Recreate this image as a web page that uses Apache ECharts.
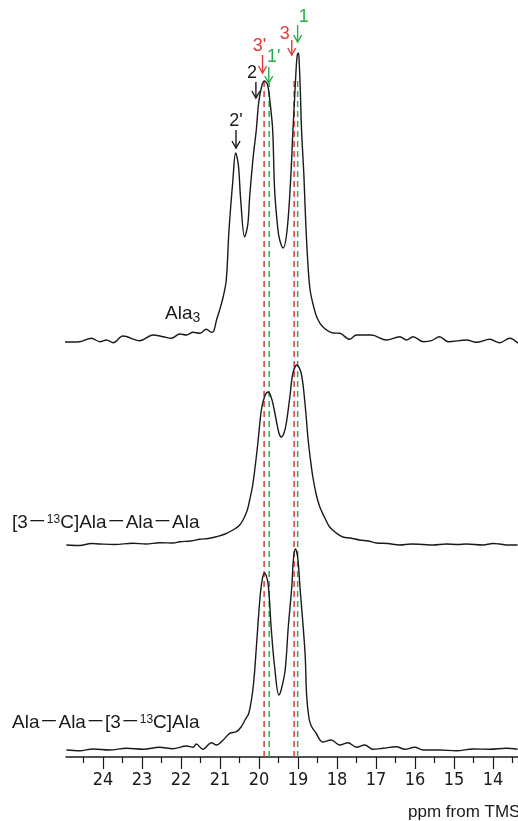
<!DOCTYPE html>
<html>
<head>
<meta charset="utf-8">
<script src="https://cdn.jsdelivr.net/npm/echarts@6/dist/echarts.min.js"></script>
<style>
html, body { margin: 0; padding: 0; background: #fff; }
#main { width: 518px; height: 821px; }
</style>
</head>
<body>
<div id="main"></div>
<script>
// ppm tick labels
var tickValues = [24, 23, 22, 21, 20, 19, 18, 17, 16, 15, 14];

// spectra, [ppm, intensity above own baseline]
var specAla3 = [
  [24.98,0],[24.60,0.3],[24.30,3.7],[24.08,0.3],[23.91,2],[23.74,-0.7],[23.49,6],[23.06,1.3],
  [22.72,7],[22.46,5.3],[22.25,3.7],[22.03,8],[21.86,7],[21.69,9.7],[21.52,8.7],[21.35,12.7],
  [21.22,9.7],[21.16,11],[21.09,22],[21.01,32],[20.92,45],[20.84,62],[20.77,112],[20.67,162],
  [20.60,189],[20.53,177],[20.47,142],[20.37,105],[20.29,117],[20.24,145],[20.15,185],[20.07,212],
  [20.01,239],[19.93,256],[19.86,261],[19.78,257],[19.71,237],[19.65,212],[19.60,152],[19.52,114],
  [19.47,102],[19.38,94],[19.28,112],[19.19,162],[19.13,212],[19.09,242],[19.05,272],[19.02,287],
  [18.99,289],[18.97,280],[18.94,250],[18.91,212],[18.85,167],[18.80,117],[18.74,74],[18.69,52],
  [18.61,37],[18.51,24],[18.36,15],[18.10,9],[17.93,8.7],[17.68,2.7],[17.50,7],[17.12,7],
  [16.73,2],[16.39,5.3],[16.22,2],[16.05,5.3],[15.79,0.3],[15.58,1.3],[15.37,5.3],[15.15,0.3],
  [14.68,2],[14.43,-0.3],[14.08,2.7],[13.83,-0.7],[13.57,3.7],[13.36,-1.3]
];
var specN13C = [
  [24.94,0],[24.60,-0.5],[24.30,1.5],[24.08,1],[23.70,0.5],[23.24,1.7],[22.90,1],[22.55,2.3],
  [22.20,2],[22.03,3.3],[21.75,4],[21.52,5.7],[21.30,6.5],[21.09,8.3],[20.87,11],[20.67,15],
  [20.52,19],[20.41,25],[20.30,35],[20.24,45],[20.17,58],[20.11,75],[20.03,102],[19.94,135],
  [19.86,148],[19.77,153],[19.69,148],[19.62,137],[19.56,125],[19.49,112],[19.43,108],[19.36,112],
  [19.30,122],[19.21,148],[19.13,172],[19.03,180],[18.92,172],[18.83,145],[18.74,105],[18.68,85],
  [18.62,68],[18.53,50],[18.44,38],[18.30,26],[18.19,18],[18.02,12],[17.85,8],[17.65,7],
  [17.42,5],[17.20,4],[16.99,2],[16.70,1.5],[16.39,0],[16.10,1],[15.80,0.5],[15.54,0],
  [15.20,1],[14.90,0.5],[14.68,1],[14.26,0],[14.00,1.5],[13.83,1],[13.60,0],[13.37,0]
];
var specC13C = [
  [24.94,0],[24.60,-0.7],[24.26,1],[23.83,0],[23.40,1.7],[22.97,0.7],[22.55,2.7],[22.21,1.3],
  [21.86,4],[21.69,2.7],[21.61,6],[21.44,0.7],[21.22,7.3],[21.09,5],[20.92,10],[20.75,16.7],
  [20.58,18.3],[20.46,23],[20.36,30],[20.26,37],[20.15,63],[20.07,102],[19.98,150],[19.92,170],
  [19.86,177],[19.77,167],[19.69,123],[19.60,83],[19.49,55],[19.42,62],[19.33,80],[19.25,123],
  [19.16,163],[19.12,190],[19.07,201],[19.01,193],[18.95,163],[18.82,97],[18.78,55],[18.72,32],
  [18.66,24],[18.54,17],[18.37,8],[18.15,10],[17.93,5],[17.72,7.3],[17.50,2.7],[17.29,5],
  [17.08,0.7],[16.82,1.7],[16.48,3.3],[16.26,0.7],[16.01,2.7],[15.79,0],[15.37,0],[14.94,-0.7],
  [14.51,1],[14.08,0.7],[13.66,1.7],[13.37,0.7]
];
var baseOffsets = [415, 212, 7];

// reference positions (dashed lines)
var refPpm = [19.87, 19.74, 19.10, 19.01];
var refTop = 676;

// peak annotations
var peakLabels = ["2'", "2", "3'", "1'", "3", "1"];
var peakPpm = [20.59, 20.08, 19.91, 19.75, 19.16, 19.01];

var RED = '#dd3b3b', GREEN = '#29ad4a', INK = '#1a1a1a';

function shift(arr, off) {
  return arr.map(function (p) { return [p[0], p[1] + off]; });
}

var dom = document.getElementById('main');
var myChart = echarts.init(dom);

var series = [];
[specAla3, specN13C, specC13C].forEach(function (s, i) {
  series.push({
    type: 'line',
    data: shift(s, baseOffsets[i]),
    smooth: 0.35,
    showSymbol: false,
    lineStyle: { color: INK, width: 1.4 },
    z: 3
  });
});
refPpm.forEach(function (p, i) {
  series.push({
    type: 'line',
    data: [[p, 0], [p, refTop]],
    showSymbol: false,
    lineStyle: { color: i % 2 === 0 ? RED : GREEN, width: 1.5, type: [6, 4] },
    z: 2
  });
});

var option = {
  animation: false,
  grid: { left: 66, right: -14, top: 0, bottom: 64, outerBoundsMode: 'none' },
  xAxis: {
    type: 'value',
    inverse: true,
    min: 13,
    max: 24.95,
    interval: 1,
    axisLine: { show: true, lineStyle: { color: INK, width: 1.5 } },
    axisTick: { show: true, length: 12, customValues: tickValues, lineStyle: { color: INK, width: 1.2 } },
    minorTick: { show: true, splitNumber: 2, length: 6, lineStyle: { color: INK, width: 1.2 } },
    axisLabel: {
      customValues: tickValues,
      margin: 14,
      color: INK,
      fontSize: 18,
      fontFamily: '"Liberation Sans Narrow", "DejaVu Sans Condensed", "Liberation Sans", sans-serif'
    },
    splitLine: { show: false }
  },
  yAxis: { type: 'value', min: 0, max: 757, show: false },
  series: series
};

if (option && typeof option === "object") {
  myChart.setOption(option, true);
}

// text & arrows placed from the axis scale
var arrowTop = [130, 82, 55, 67, 40, 25];
var arrowTip = [148, 98, 73, 83, 55, 42];
var textDx = [0, -4, -3, 5, -7, 6];
var textY = [121, 73, 46, 57, 34, 17];
var annColor = [INK, INK, RED, GREEN, RED, GREEN];

var g = [];
peakPpm.forEach(function (p, i) {
  var x = myChart.convertToPixel({ xAxisIndex: 0 }, p);
  var st = { stroke: annColor[i], lineWidth: 1.4, fill: null };
  g.push({ type: 'line', shape: { x1: x, y1: arrowTop[i], x2: x, y2: arrowTip[i] }, style: st, z: 10 });
  g.push({ type: 'polyline', shape: { points: [[x - 4, arrowTip[i] - 7], [x, arrowTip[i]], [x + 4, arrowTip[i] - 7]] }, style: st, z: 10 });
  g.push({
    type: 'text', x: x + textDx[i], y: textY[i], z: 10,
    style: {
      text: peakLabels[i], fill: annColor[i], fontSize: 18,
      fontFamily: '"Liberation Sans", sans-serif', align: 'center', verticalAlign: 'middle'
    }
  });
});

var labelFont = '"Liberation Sans", "Noto Sans CJK JP", sans-serif';
var rich = {
  n: { fontSize: 19, fontFamily: labelFont, fill: INK, lineHeight: 22 },
  sup: { fontSize: 12, fontFamily: labelFont, fill: INK, verticalAlign: 'top', lineHeight: 22, padding: [2, 0, 0, 0] },
  sub: { fontSize: 14, fontFamily: labelFont, fill: INK, verticalAlign: 'bottom', lineHeight: 22 }
};
g.push({ type: 'text', x: 165, y: 314, z: 10,
  style: { text: '{n|Ala}{sub|3}', rich: rich, verticalAlign: 'middle' } });
g.push({ type: 'text', x: 12, y: 523, z: 10,
  style: { text: '{n|[3－}{sup|13}{n|C]Ala－Ala－Ala}', rich: rich, verticalAlign: 'middle' } });
g.push({ type: 'text', x: 12, y: 723, z: 10,
  style: { text: '{n|Ala－Ala－[3－}{sup|13}{n|C]Ala}', rich: rich, verticalAlign: 'middle' } });
g.push({ type: 'text', x: 408, y: 812, z: 10,
  style: { text: 'ppm from TMS', fill: INK, fontSize: 17, fontFamily: '"Liberation Sans", sans-serif', verticalAlign: 'middle' } });

myChart.setOption({ graphic: g });
</script>
</body>
</html>
